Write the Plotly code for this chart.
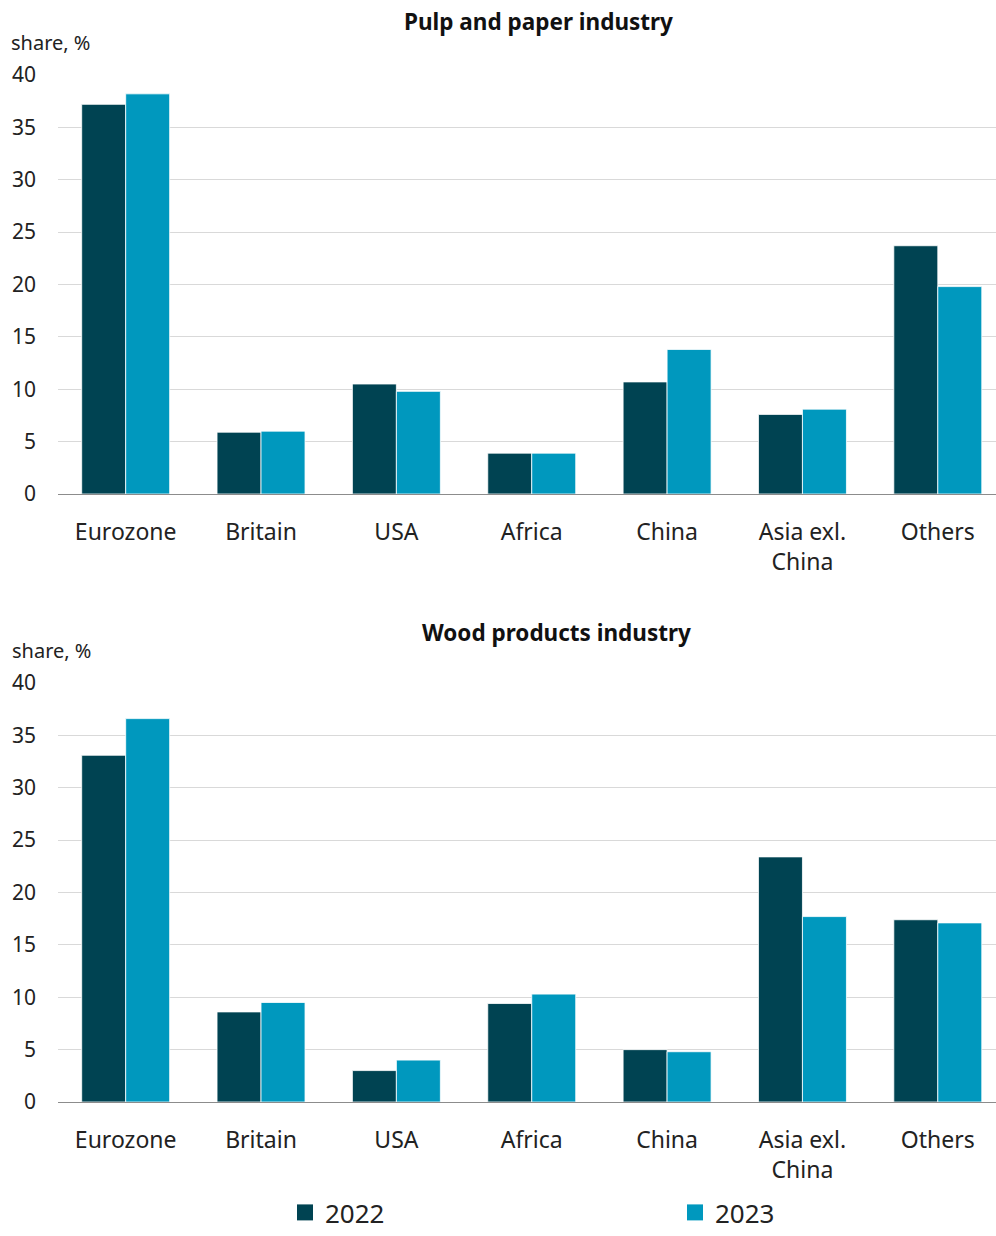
import plotly.graph_objects as go

categories = ["Eurozone", "Britain", "USA", "Africa", "China", "Asia exl.<br>China", "Others"]
pulp_2022 = [37.2, 5.9, 10.5, 3.9, 10.7, 7.6, 23.7]
pulp_2023 = [38.2, 6.0, 9.8, 3.9, 13.8, 8.1, 19.8]
wood_2022 = [33.1, 8.6, 3.0, 9.4, 5.0, 23.4, 17.4]
wood_2023 = [36.6, 9.5, 4.0, 10.3, 4.8, 17.7, 17.1]
series_names = ["2022", "2023"]
y_ticks = [0, 5, 10, 15, 20, 25, 30, 35, 40]

C22 = "#004352"
C23 = "#0098BE"
FONT = "Noto Sans"
W, H = 996, 1236

fig = go.Figure()
for name, vals, col in [(series_names[0], pulp_2022, C22), (series_names[1], pulp_2023, C23)]:
    fig.add_trace(go.Bar(x=categories, y=vals, name=name, marker=dict(color=col, line=dict(color="white", width=0.8)),
                         xaxis="x", yaxis="y", showlegend=False, legendgroup=name))
for name, vals, col in [(series_names[0], wood_2022, C22), (series_names[1], wood_2023, C23)]:
    fig.add_trace(go.Bar(x=categories, y=vals, name=name, marker=dict(color=col, line=dict(color="white", width=0.8)),
                         xaxis="x2", yaxis="y2", showlegend=False, legendgroup=name))
# legend entries with larger square symbols
for name, col in [(series_names[0], C22), (series_names[1], C23)]:
    fig.add_trace(go.Scatter(x=[None], y=[None], mode="markers", name=name,
                             marker=dict(symbol="square", size=21, color=col),
                             xaxis="x2", yaxis="y2", showlegend=True, legendgroup=name))

def ydom(top_px, bot_px):
    return [1 - bot_px / H, 1 - top_px / H]

axis_common_y = dict(range=[0, 40], tickvals=y_ticks, showgrid=True, gridcolor="#d9d9d9", gridwidth=1,
                     zeroline=False, showline=False, ticks="", tickfont=dict(size=21, color="#222"),
                     ticklabelstandoff=21, fixedrange=True, automargin=False)
axis_common_x = dict(range=[-0.5, 6.43], showline=True, linecolor="#8c8c8c", linewidth=1.3, ticks="",
                     tickfont=dict(size=23, color="#222"), ticklabelstandoff=17, showgrid=False,
                     automargin=False)

fig.update_layout(
    width=W, height=H,
    margin=dict(l=58, r=0, t=0, b=0, autoexpand=False),
    paper_bgcolor="white", plot_bgcolor="white",
    font=dict(family=FONT, color="#222"),
    barmode="group", bargap=0.35, bargroupgap=0,
    xaxis=dict(domain=[0, 1], anchor="y", **axis_common_x),
    yaxis=dict(domain=ydom(75, 494), anchor="x", **axis_common_y),
    xaxis2=dict(domain=[0, 1], anchor="y2", **axis_common_x),
    yaxis2=dict(domain=ydom(683, 1102), anchor="x2", **axis_common_y),
    legend=dict(orientation="h", xref="container", yref="container", x=285 / W, y=-4 / H,
                xanchor="left", yanchor="bottom", font=dict(size=26, color="#222"),
                entrywidth=345, entrywidthmode="pixels", itemwidth=30, traceorder="normal",
                bgcolor="rgba(0,0,0,0)"),
    annotations=[
        dict(text="<b>Pulp and paper industry</b>", xref="paper", yref="paper", x=(538 - 58) / (W - 58),
             y=1 - 22 / H, xanchor="center", yanchor="middle", showarrow=False, font=dict(size=22.5, color="#111")),
        dict(text="<b>Wood products industry</b>", xref="paper", yref="paper", x=(556 - 58) / (W - 58),
             y=1 - 632 / H, xanchor="center", yanchor="middle", showarrow=False, font=dict(size=22.5, color="#111")),
        dict(text="share, %", xref="paper", yref="paper", x=-49 / (W - 58), y=1 - 43 / H,
             xanchor="left", yanchor="middle", showarrow=False, font=dict(size=20, color="#222")),
        dict(text="share, %", xref="paper", yref="paper", x=-48 / (W - 58), y=1 - 650 / H,
             xanchor="left", yanchor="middle", showarrow=False, font=dict(size=20, color="#222")),
    ],
)

fig.write_html("out.html")
